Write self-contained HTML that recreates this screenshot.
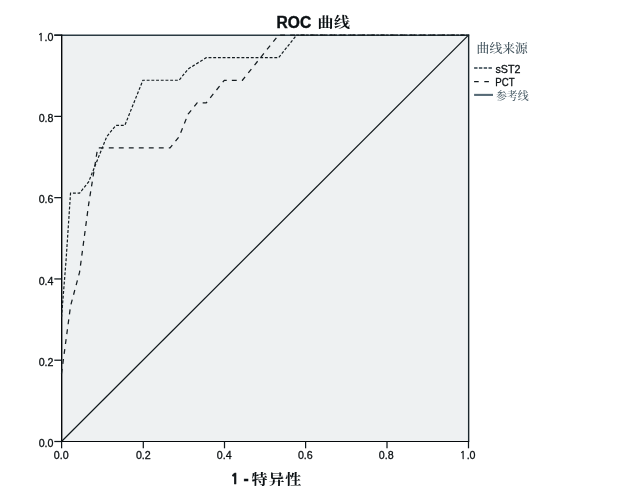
<!DOCTYPE html>
<html lang="zh"><head><meta charset="utf-8"><title>ROC 曲线</title>
<style>
html,body{margin:0;padding:0;background:#fff;}
body{width:626px;height:501px;overflow:hidden;}
svg{display:block;}
text{font-family:"Liberation Sans","Noto Serif CJK SC",sans-serif;fill:#0c1114;}
.tk{font-size:10.67px;stroke:#0c1114;stroke-width:0.3px;}
.ttl{font-size:15.6px;font-weight:bold;stroke:#0c1114;stroke-width:0.4px;}
.one{font-family:"NanumGothic","Liberation Sans",sans-serif;font-size:14.4px;stroke-width:0.7px;}
.one1{font-family:"NanumGothic","Liberation Sans",sans-serif;font-size:10.2px;stroke-width:0.35px;letter-spacing:0.8px;}
.cjkb{font-family:"Noto Serif CJK SC","Liberation Serif",serif;font-weight:bold;font-size:16px;}
.lgt{font-family:"Noto Serif CJK SC","Liberation Serif",serif;font-size:12.8px;font-weight:500;fill:#43545e;}
.lg{font-size:10.67px;fill:#0c1114;stroke:#0c1114;stroke-width:0.3px;}
.lgc{font-family:"Noto Serif CJK SC","Liberation Serif",serif;font-size:10.9px;font-weight:500;fill:#50626c;}
</style></head><body>
<svg width="626" height="501" viewBox="0 0 626 501">
<rect x="0" y="0" width="626" height="501" fill="#ffffff"/>
<rect x="61.50" y="35.10" width="407.00" height="406.40" fill="#eef1f2"/>
<line x1="61.50" y1="441.50" x2="468.50" y2="35.10" stroke="#10181c" stroke-width="1.2"/>
<line x1="54.30" y1="35.22" x2="469.20" y2="35.22" stroke="#2a3a42" stroke-width="1.5"/>
<line x1="468.65" y1="34.60" x2="468.65" y2="442.00" stroke="#1a262c" stroke-width="1.4"/>
<line x1="61.00" y1="441.50" x2="469.00" y2="441.50" stroke="#05090b" stroke-width="1.2"/>
<line x1="61.70" y1="34.60" x2="61.70" y2="442.00" stroke="#05090b" stroke-width="1.4"/>
<polyline points="61.50,317.32 66.02,260.88 70.54,193.14 79.59,193.14 88.63,181.86 106.72,136.70 115.77,125.41 124.81,125.41 142.90,80.26 179.08,80.26 188.12,68.97 206.21,57.68 278.57,57.68 296.66,35.10 468.50,35.10" fill="none" stroke="#141c20" stroke-width="1.2" stroke-dasharray="2.9,1.8"/>
<polyline points="61.50,373.77 70.54,306.03 79.59,272.17 88.63,204.43 97.68,147.99 170.03,147.99 179.08,136.70 188.12,114.12 197.17,102.83 206.21,102.83 224.30,80.26 242.39,80.26 278.57,35.10 468.50,35.10" fill="none" stroke="#141c20" stroke-width="1.25" stroke-dasharray="4.9,5.1"/>
<line x1="61.60" y1="441.50" x2="61.60" y2="448.30" stroke="#10181c" stroke-width="1.25"/>
<line x1="54.30" y1="441.50" x2="61.50" y2="441.50" stroke="#10181c" stroke-width="1.25"/>
<text class="tk" x="61.25" y="459.00" text-anchor="middle">0.0</text>
<text class="tk" x="53.50" y="447.10" text-anchor="end">0.0</text>
<line x1="143.30" y1="441.50" x2="143.30" y2="448.30" stroke="#10181c" stroke-width="1.25"/>
<line x1="54.30" y1="360.22" x2="61.50" y2="360.22" stroke="#10181c" stroke-width="1.25"/>
<text class="tk" x="143.35" y="459.00" text-anchor="middle">0.2</text>
<text class="tk" x="53.50" y="365.82" text-anchor="end">0.2</text>
<line x1="224.50" y1="441.50" x2="224.50" y2="448.30" stroke="#10181c" stroke-width="1.25"/>
<line x1="54.30" y1="278.94" x2="61.50" y2="278.94" stroke="#10181c" stroke-width="1.25"/>
<text class="tk" x="224.25" y="459.00" text-anchor="middle">0.4</text>
<text class="tk" x="53.50" y="284.54" text-anchor="end">0.4</text>
<line x1="305.60" y1="441.50" x2="305.60" y2="448.30" stroke="#10181c" stroke-width="1.25"/>
<line x1="54.30" y1="197.66" x2="61.50" y2="197.66" stroke="#10181c" stroke-width="1.25"/>
<text class="tk" x="305.35" y="459.00" text-anchor="middle">0.6</text>
<text class="tk" x="53.50" y="203.26" text-anchor="end">0.6</text>
<line x1="387.00" y1="441.50" x2="387.00" y2="448.30" stroke="#10181c" stroke-width="1.25"/>
<line x1="54.30" y1="116.38" x2="61.50" y2="116.38" stroke="#10181c" stroke-width="1.25"/>
<text class="tk" x="386.20" y="459.00" text-anchor="middle">0.8</text>
<text class="tk" x="53.50" y="121.98" text-anchor="end">0.8</text>
<line x1="468.50" y1="441.50" x2="468.50" y2="448.30" stroke="#10181c" stroke-width="1.25"/>
<line x1="54.30" y1="35.10" x2="61.50" y2="35.10" stroke="#10181c" stroke-width="1.25"/>
<text class="tk" x="467.60" y="459.00" text-anchor="middle"><tspan class="one1">1</tspan>.0</text>
<text class="tk" x="53.50" y="40.70" text-anchor="end"><tspan class="one1">1</tspan>.0</text>
<text class="ttl" x="276.5" y="27.5">ROC</text>
<text class="cjkb" transform="translate(317.4 27.3) scale(1 0.85)" x="0" y="0" letter-spacing="0.6">曲线</text>
<text class="ttl" x="230.5" y="483.8"><tspan class="one">1</tspan><tspan x="243.6">-</tspan></text>
<text class="cjkb" transform="translate(251.6 484.2) scale(1 0.85)" x="0" y="0" letter-spacing="0.8">特异性</text>
<text class="lgt" transform="translate(476.6 52.8) scale(1 0.94)" x="0" y="0">曲线来源</text>
<line x1="474.1" y1="68.1" x2="492.2" y2="68.1" stroke="#2c3e48" stroke-width="1.5" stroke-dasharray="3.4,1.4"/>
<line x1="474.1" y1="81.6" x2="492.2" y2="81.6" stroke="#141c20" stroke-width="1.4" stroke-dasharray="4.6,5.6"/>
<line x1="474.1" y1="94.9" x2="493" y2="94.9" stroke="#566a76" stroke-width="2.1"/>
<text class="lg" x="495.5" y="72.9">sST2</text>
<text class="lg" x="495.3" y="86.1" textLength="19.3" lengthAdjust="spacingAndGlyphs">PCT</text>
<text class="lgc" x="495.9" y="100.2">参考线</text>
</svg>
</body></html>
